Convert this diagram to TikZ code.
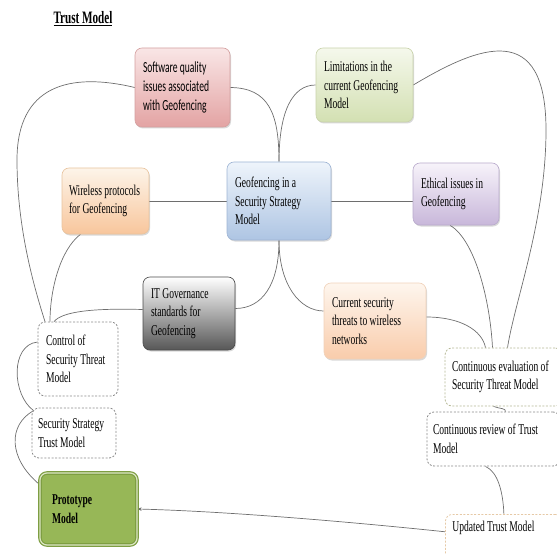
\documentclass[tikz,border=0pt]{standalone}
\usepackage{fontspec}
\usetikzlibrary{arrows.meta,shadows}
\newfontfamily\tnr[FakeStretch=0.64]{Liberation Serif}
\newfontfamily\carl[FakeStretch=0.62]{Carlito}
\newcommand\tnrfont{\tnr\fontsize{15}{18.5}\selectfont}
\newcommand\carlfont{\carl\fontsize{15.5}{19.5}\selectfont}
\definecolor{softT}{HTML}{F9E6E6}\definecolor{softB}{HTML}{E3A3A3}\definecolor{softD}{HTML}{D4A0A0}
\definecolor{limT}{HTML}{F5F8EC}\definecolor{limB}{HTML}{D3E0B2}\definecolor{limD}{HTML}{C9D3AB}
\definecolor{wirT}{HTML}{FDF4E9}\definecolor{wirB}{HTML}{F8C69C}\definecolor{wirD}{HTML}{E8C49F}
\definecolor{cenT}{HTML}{EEF4FB}\definecolor{cenB}{HTML}{AEC5E3}\definecolor{cenD}{HTML}{9EB4D4}
\definecolor{ethT}{HTML}{F7F3FA}\definecolor{ethB}{HTML}{C8B7DA}\definecolor{ethD}{HTML}{B9ABCC}
\definecolor{itgT}{HTML}{FFFFFF}\definecolor{itgB}{HTML}{575757}\definecolor{itgD}{HTML}{4A4A4A}
\definecolor{curT}{HTML}{FEF6EE}\definecolor{curB}{HTML}{F9CCAB}\definecolor{curD}{HTML}{F0D2BA}
\definecolor{protoF}{HTML}{97B757}\definecolor{protoD}{HTML}{7E9E42}
\definecolor{linec}{HTML}{6E6E6E}
\definecolor{dashg}{HTML}{8A8A8A}\definecolor{dashy}{HTML}{B5B895}\definecolor{dasho}{HTML}{E6C9A6}
\pgfdeclarelayer{bg}
\pgfsetlayers{bg,main}
\tikzset{
  box/.style={rounded corners=7bp, align=flush left, inner xsep=8bp, inner ysep=4bp,
              font=\tnrfont, line width=0.6bp},
  cbox/.style={box, drop shadow={shadow xshift=1bp, shadow yshift=-1.5bp, opacity=0.25, fill=black!60}},
  dbox/.style={box, draw=#1, dash pattern=on 2bp off 1.6bp, line width=0.8bp, fill=white},
  conn/.style={draw=linec, line width=0.7bp},
}
\begin{document}
\begin{tikzpicture}[x=1bp,y=-1bp]
\useasboundingbox (0,0) rectangle (557,554);

\node[font=\tnr\fontsize{17.5}{20}\selectfont\bfseries] (title) at (83,19) {\underline{Trust Model}};

% coloured boxes
\node[cbox, top color=softT, bottom color=softB, draw=softD, text width=79bp, minimum height=79bp, font=\carlfont] (soft) at (182.5,87.5) {Software quality\\issues associated\\with Geofencing};
\node[cbox, top color=limT, bottom color=limB, draw=limD, text width=81bp, minimum height=74bp] (lim) at (364.5,85) {Limitations in the\\current Geofencing\\Model};
\node[cbox, top color=wirT, bottom color=wirB, draw=wirD, inner xsep=7bp, text width=73bp, minimum height=66bp] (wire) at (105.5,201) {Wireless protocols\\for Geofencing\\[6bp]};
\node[cbox, top color=cenT, bottom color=cenB, draw=cenD, text width=88bp, minimum height=78bp] (cen) at (279,201) {Geofencing in a\\Security Strategy\\Model};
\node[cbox, top color=ethT, bottom color=ethB, draw=ethD, text width=70bp, minimum height=62bp] (eth) at (456,194) {Ethical issues in\\Geofencing\\[4bp]};
\node[cbox, top color=itgT, bottom color=itgB, draw=itgD, text width=76bp, minimum height=73bp] (itg) at (189,313.5) {IT Governance\\standards for\\Geofencing};
\node[cbox, top color=curT, bottom color=curB, draw=curD, text width=86bp, minimum height=76bp] (cur) at (375,321) {Current security\\threats to wireless\\networks\\[4bp]};

% dashed boxes
\node[dbox=dashg, text width=64bp, minimum height=74bp] (ctrl) at (78,359) {Control of\\Security Threat\\Model};
\node[dbox=dashg, inner xsep=6bp, text width=72bp, minimum height=50bp] (ssm) at (74,433) {Security Strategy\\Trust Model};
\node[dbox=dashy, inner xsep=7bp, text width=103bp, minimum height=58bp] (ceval) at (503.5,377) {Continuous evaluation of\\Security Threat Model};
\node[dbox=dashg, inner xsep=6bp, text width=121bp, minimum height=54bp] (crev) at (493.5,439) {Continuous review of Trust\\Model};
\node[dbox=dasho, anchor=north west, inner xsep=7bp, inner ysep=7bp, text width=103bp, text depth=40bp] (upd) at (445,514) {Updated Trust Model};

% prototype
\node[box, fill=protoF, draw=protoD, double=protoF!35!white, double distance=1.2bp, line width=1.2bp,
      inner xsep=12bp, text width=73bp, minimum height=72bp, font=\tnrfont\bfseries] (proto) at (88.5,509) {Prototype\\Model};

% connectors, under the boxes
\begin{pgfonlayer}{bg}
\path[conn] (cen.north) .. controls (279,112) and (268,88) .. (soft.east);
\path[conn] (cen.north) .. controls (279,112) and (292,85) .. (lim.west);
\path[conn] (cen.west) -- (wire.east);
\path[conn] (cen.east) -- (cen.east -| eth.west);
\path[conn] (cen.south) .. controls (279,285) and (262,308.5) .. ([yshift=5bp]itg.east);
\path[conn] (cen.south) .. controls (279,285) and (300,311) .. ([yshift=10bp]cur.west);
\path[conn] (soft.west) .. controls (70,72) and (17,85) .. (17,160) .. controls (17,230) and (35,290) .. ([xshift=-33bp]ctrl.north);
\path[conn] ([xshift=-25bp]wire.south) .. controls (60,250) and (50,290) .. ([xshift=-28bp]ctrl.north);
\path[conn] ([yshift=4bp]itg.west) .. controls (90,308) and (62,312) .. ([xshift=-24bp]ctrl.north);
\path[conn] ([yshift=17bp]ctrl.west) .. controls (10,345) and (12,395) .. ([xshift=2bp,yshift=-3bp]ssm.north west);
\path[conn] ([xshift=2bp,yshift=-3bp]ssm.north west) .. controls (8,425) and (8,458) .. ([yshift=-12bp]proto.north west);
\path[conn] (lim.east) .. controls (480,45) and (546,20) .. (546,130) .. controls (546,220) and (515,300) .. ([xshift=4bp]ceval.north);
\path[conn] ([xshift=-6bp]eth.south) .. controls (475,240) and (490,300) .. ([xshift=-11bp]ceval.north);
\path[conn] ([yshift=4bp]cur.east) .. controls (460,317) and (482,330) .. ([xshift=-18bp]ceval.north);
\path[conn] ([xshift=-10bp]ceval.south) .. controls (500,409) and (506,408) .. ([xshift=12bp]crev.north);
\path[conn] ([xshift=-8bp]crev.south) .. controls (498,472) and (503,492) .. (upd.north);
\path[conn, -{Stealth[length=4bp,width=3.5bp]}] (upd.base west) .. controls (400,527) and (250,512) .. (proto.east);
\end{pgfonlayer}
\end{tikzpicture}
\end{document}
